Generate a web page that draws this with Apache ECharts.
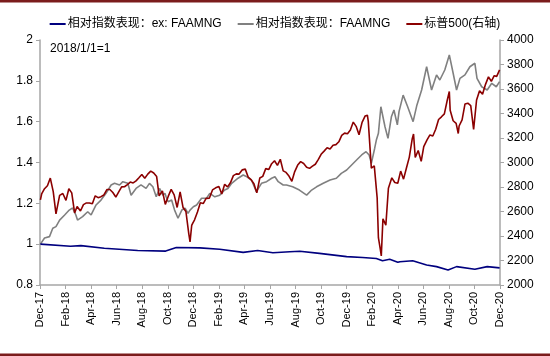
<!DOCTYPE html>
<html>
<head>
<meta charset="utf-8">
<script src="https://cdn.jsdelivr.net/npm/echarts@6/dist/echarts.min.js"></script>
<style>html,body{margin:0;padding:0;background:#fff}#c{width:550px;height:356px}</style>
</head>
<body>
<div id="c"></div>
<script>
// ---- DATA ----
const xTickLabels = ['Dec-17','Feb-18','Apr-18','Jun-18','Aug-18','Oct-18','Dec-18','Feb-19','Apr-19','Jun-19','Aug-19','Oct-19','Dec-19','Feb-20','Apr-20','Jun-20','Aug-20','Oct-20','Dec-20'];
const seriesNames = ['相对指数表现：ex: FAAMNG', '相对指数表现：FAAMNG', '标普500(右轴)'];

const spxDates = ['2018-01-02','2018-01-05','2018-01-12','2018-01-19','2018-01-26','2018-02-02','2018-02-08','2018-02-16','2018-02-23','2018-03-02','2018-03-09','2018-03-16','2018-03-23','2018-03-29','2018-04-06','2018-04-13','2018-04-20','2018-04-27','2018-05-04','2018-05-11','2018-05-18','2018-05-25','2018-06-01','2018-06-08','2018-06-15','2018-06-22','2018-06-29','2018-07-06','2018-07-13','2018-07-20','2018-07-27','2018-08-03','2018-08-10','2018-08-17','2018-08-24','2018-08-31','2018-09-07','2018-09-14','2018-09-21','2018-09-28','2018-10-05','2018-10-11','2018-10-19','2018-10-26','2018-11-02','2018-11-09','2018-11-16','2018-11-23','2018-11-30','2018-12-07','2018-12-14','2018-12-21','2018-12-24','2018-12-28','2018-12-31',
'2019-01-04','2019-01-11','2019-01-18','2019-01-25','2019-02-01','2019-02-08','2019-02-15','2019-02-22','2019-03-01','2019-03-08','2019-03-15','2019-03-22','2019-03-29','2019-04-05','2019-04-12','2019-04-18','2019-04-26','2019-05-03','2019-05-10','2019-05-17','2019-05-24','2019-05-31','2019-06-07','2019-06-14','2019-06-21','2019-06-28','2019-07-05','2019-07-12','2019-07-19','2019-07-26','2019-08-02','2019-08-09','2019-08-16','2019-08-23','2019-08-30','2019-09-06','2019-09-13','2019-09-20','2019-09-27','2019-10-04','2019-10-11','2019-10-18','2019-10-25','2019-11-01','2019-11-08','2019-11-15','2019-11-22','2019-11-29','2019-12-06','2019-12-13','2019-12-20','2019-12-27','2019-12-31',
'2020-01-03','2020-01-10','2020-01-17','2020-01-24','2020-01-31','2020-02-07','2020-02-14','2020-02-19','2020-02-21','2020-02-28','2020-03-06','2020-03-13','2020-03-16','2020-03-20','2020-03-23','2020-03-27','2020-04-03','2020-04-09','2020-04-17','2020-04-24','2020-05-01','2020-05-08','2020-05-15','2020-05-22','2020-05-29','2020-06-05','2020-06-08','2020-06-12','2020-06-19','2020-06-26','2020-07-02','2020-07-10','2020-07-17','2020-07-24','2020-07-31','2020-08-07','2020-08-14','2020-08-21','2020-08-28','2020-09-02','2020-09-04','2020-09-11','2020-09-18','2020-09-23','2020-09-25','2020-10-02','2020-10-09','2020-10-16','2020-10-23','2020-10-30','2020-11-06','2020-11-13','2020-11-20','2020-11-27','2020-12-04','2020-12-11','2020-12-18','2020-12-24','2020-12-31'];
const spxValues = [2695,2743,2786,2810,2873,2762,2581,2732,2747,2691,2786,2752,2588,2641,2604,2656,2670,2670,2663,2728,2713,2721,2735,2779,2780,2755,2718,2760,2801,2802,2819,2840,2833,2850,2875,2902,2872,2905,2930,2914,2885,2728,2768,2658,2723,2781,2736,2633,2760,2633,2600,2417,2351,2486,2507,
2532,2596,2671,2665,2707,2708,2776,2793,2804,2743,2822,2801,2834,2893,2907,2905,2940,2946,2881,2860,2826,2752,2873,2887,2950,2942,2990,3014,2977,3026,2932,2919,2889,2847,2926,2979,3007,2992,2962,2952,2970,2986,3023,3067,3093,3120,3110,3141,3146,3169,3221,3240,3231,
3235,3265,3330,3295,3226,3328,3380,3386,3338,2954,2972,2711,2386,2305,2237,2541,2489,2790,2875,2837,2831,2930,2864,2955,3044,3194,3232,3041,3098,3009,3130,3185,3225,3216,3271,3351,3373,3397,3508,3580,3427,3341,3319,3237,3298,3348,3477,3484,3465,3270,3510,3585,3558,3638,3699,3663,3709,3703,3756];

const faamngDates = ['2018-01-02','2018-01-12','2018-01-24','2018-02-01','2018-02-08','2018-02-16','2018-02-27','2018-03-10','2018-03-18','2018-03-26','2018-03-30','2018-04-11','2018-04-23','2018-05-01','2018-05-13','2018-05-25','2018-06-06','2018-06-18','2018-06-26','2018-07-08','2018-07-16','2018-07-28','2018-08-05','2018-08-17','2018-08-29','2018-09-10','2018-09-18','2018-09-26','2018-10-04','2018-10-12','2018-10-20','2018-10-25','2018-10-28','2018-11-02','2018-11-10','2018-11-17','2018-11-25','2018-12-04','2018-12-12','2018-12-19','2018-12-24',
'2019-01-01','2019-01-09','2019-01-21','2019-02-02','2019-02-09','2019-02-20','2019-03-03','2019-03-15','2019-03-23','2019-04-01','2019-04-16','2019-04-28','2019-05-07','2019-05-18','2019-05-30','2019-06-11','2019-06-23','2019-07-05','2019-07-13','2019-07-21','2019-08-02','2019-08-10','2019-08-25','2019-09-10','2019-09-27','2019-10-09','2019-10-21','2019-11-06','2019-11-22','2019-12-07','2019-12-19',
'2020-01-01','2020-01-13','2020-01-25','2020-02-06','2020-02-16','2020-02-23','2020-02-28','2020-03-07','2020-03-11','2020-03-16','2020-03-22','2020-04-01','2020-04-08','2020-04-16','2020-04-22','2020-04-30','2020-05-04','2020-05-14','2020-05-25','2020-06-07','2020-06-16','2020-06-27','2020-07-09','2020-07-21','2020-08-02','2020-08-10','2020-08-22','2020-09-02','2020-09-11','2020-09-19','2020-09-27','2020-10-09','2020-10-21','2020-11-02','2020-11-07','2020-11-18','2020-12-01','2020-12-12','2020-12-23','2020-12-31'];
const faamngValues = [1.0,1.03,1.037,1.078,1.086,1.118,1.143,1.167,1.177,1.143,1.118,1.135,1.159,1.143,1.192,1.216,1.249,1.29,1.298,1.29,1.306,1.298,1.24,1.273,1.29,1.273,1.298,1.281,1.232,1.273,1.24,1.249,1.232,1.208,1.216,1.167,1.127,1.167,1.176,1.151,1.167,
1.183,1.192,1.225,1.225,1.249,1.232,1.24,1.265,1.273,1.298,1.323,1.339,1.33,1.314,1.257,1.298,1.306,1.323,1.33,1.306,1.29,1.29,1.281,1.265,1.24,1.265,1.281,1.298,1.314,1.323,1.347,
1.363,1.388,1.412,1.437,1.453,1.437,1.396,1.47,1.51,1.543,1.673,1.575,1.518,1.624,1.657,1.584,1.649,1.73,1.673,1.6,1.682,1.755,1.869,1.755,1.829,1.804,1.853,1.927,1.837,1.755,1.812,1.829,1.869,1.886,1.812,1.771,1.755,1.788,1.771,1.796];

const exDates = ['2018-01-02','2018-03-13','2018-04-07','2018-06-02','2018-08-21','2018-10-27','2018-11-21','2019-01-17','2019-03-03','2019-04-28','2019-06-02','2019-07-08','2019-08-18','2019-09-11','2019-10-28','2020-01-01','2020-02-08','2020-03-11','2020-03-26','2020-04-12','2020-05-01','2020-05-06','2020-06-06','2020-07-09','2020-08-02','2020-08-30','2020-09-19','2020-11-02','2020-12-01','2020-12-31'];
const exValues = [1.0,0.99,0.993,0.98,0.969,0.966,0.984,0.982,0.975,0.96,0.969,0.958,0.963,0.965,0.955,0.939,0.935,0.93,0.919,0.926,0.911,0.914,0.919,0.898,0.89,0.873,0.89,0.877,0.89,0.884];

// ---- HELPERS ----
function toMonths(s) {
  const [y, m, d] = s.split('-').map(Number);
  const dim = new Date(y, m, 0).getDate();
  return (y - 2018) * 12 + (m - 1) + (d - 1) / dim;
}
function pairs(dates, vals) { return dates.map((d, i) => [toMonths(d), vals[i]]); }

const font = "'Liberation Sans', Arial, 'Noto Sans CJK SC', sans-serif";
const chart = echarts.init(document.getElementById('c'), null, {renderer: 'canvas'});
const axisLineStyle = {color: '#a6a6a6', width: 1.5};
chart.setOption({
  animation: false,
  backgroundColor: '#fff',
  grid: {left: 40, right: 50, top: 40, bottom: 71, containLabel: false},
  legend: {
    top: 13, left: 'center', itemGap: 16, itemWidth: 16, itemHeight: 2, icon: 'rect',
    textStyle: {fontSize: 12, color: '#000', fontFamily: font, padding: [0, 0, 0, -3]},
    data: seriesNames
  },
  graphic: [
    {type: 'rect', left: 0, top: 0, shape: {width: 550, height: 2.5}, style: {fill: '#7b1c1c'}, silent: true},
    {type: 'rect', left: 0, top: 353.5, shape: {width: 550, height: 2.5}, style: {fill: '#7b1c1c'}, silent: true},
    {type: 'text', left: 50, top: 43, style: {text: '2018/1/1=1', fontSize: 12, fill: '#000', fontFamily: font}}
  ],
  xAxis: {
    type: 'value', min: 0, max: 36, interval: 2,
    axisLine: {show: true, onZero: false, lineStyle: axisLineStyle},
    axisTick: {show: true, length: 4, lineStyle: {color: '#a6a6a6'}},
    splitLine: {show: false},
    axisLabel: {rotate: 90, fontSize: 11, color: '#000', fontFamily: font, margin: 7,
      formatter: v => xTickLabels[Math.round(v / 2)] || ''}
  },
  yAxis: [
    {type: 'value', min: 0.8, max: 2, interval: 0.2, position: 'left',
      axisLine: {show: true, onZero: false, lineStyle: axisLineStyle},
      axisTick: {show: true, length: 4, lineStyle: {color: '#a6a6a6'}},
      splitLine: {show: false},
      axisLabel: {fontSize: 12, color: '#000', fontFamily: font, margin: 7,
        formatter: v => String(parseFloat(v.toFixed(1)))}},
    {type: 'value', min: 2000, max: 4000, interval: 200, position: 'right',
      axisLine: {show: true, onZero: false, lineStyle: axisLineStyle},
      axisTick: {show: true, length: 4, lineStyle: {color: '#a6a6a6'}},
      splitLine: {show: false},
      axisLabel: {fontSize: 12, color: '#000', fontFamily: font, margin: 7,
        formatter: v => String(Math.round(v))}}
  ],
  series: [
    {name: seriesNames[0], type: 'line', yAxisIndex: 0, showSymbol: false, symbol: 'none',
      data: pairs(exDates, exValues), lineStyle: {color: '#00007f', width: 1.6}, itemStyle: {color: '#00007f'}, z: 3},
    {name: seriesNames[1], type: 'line', yAxisIndex: 0, showSymbol: false, symbol: 'none',
      data: pairs(faamngDates, faamngValues), lineStyle: {color: '#808080', width: 1.6}, itemStyle: {color: '#808080'}, z: 2},
    {name: seriesNames[2], type: 'line', yAxisIndex: 1, showSymbol: false, symbol: 'none',
      data: pairs(spxDates, spxValues), lineStyle: {color: '#8b0000', width: 1.6}, itemStyle: {color: '#8b0000'}, z: 4}
  ]
});
</script>
</body>
</html>
